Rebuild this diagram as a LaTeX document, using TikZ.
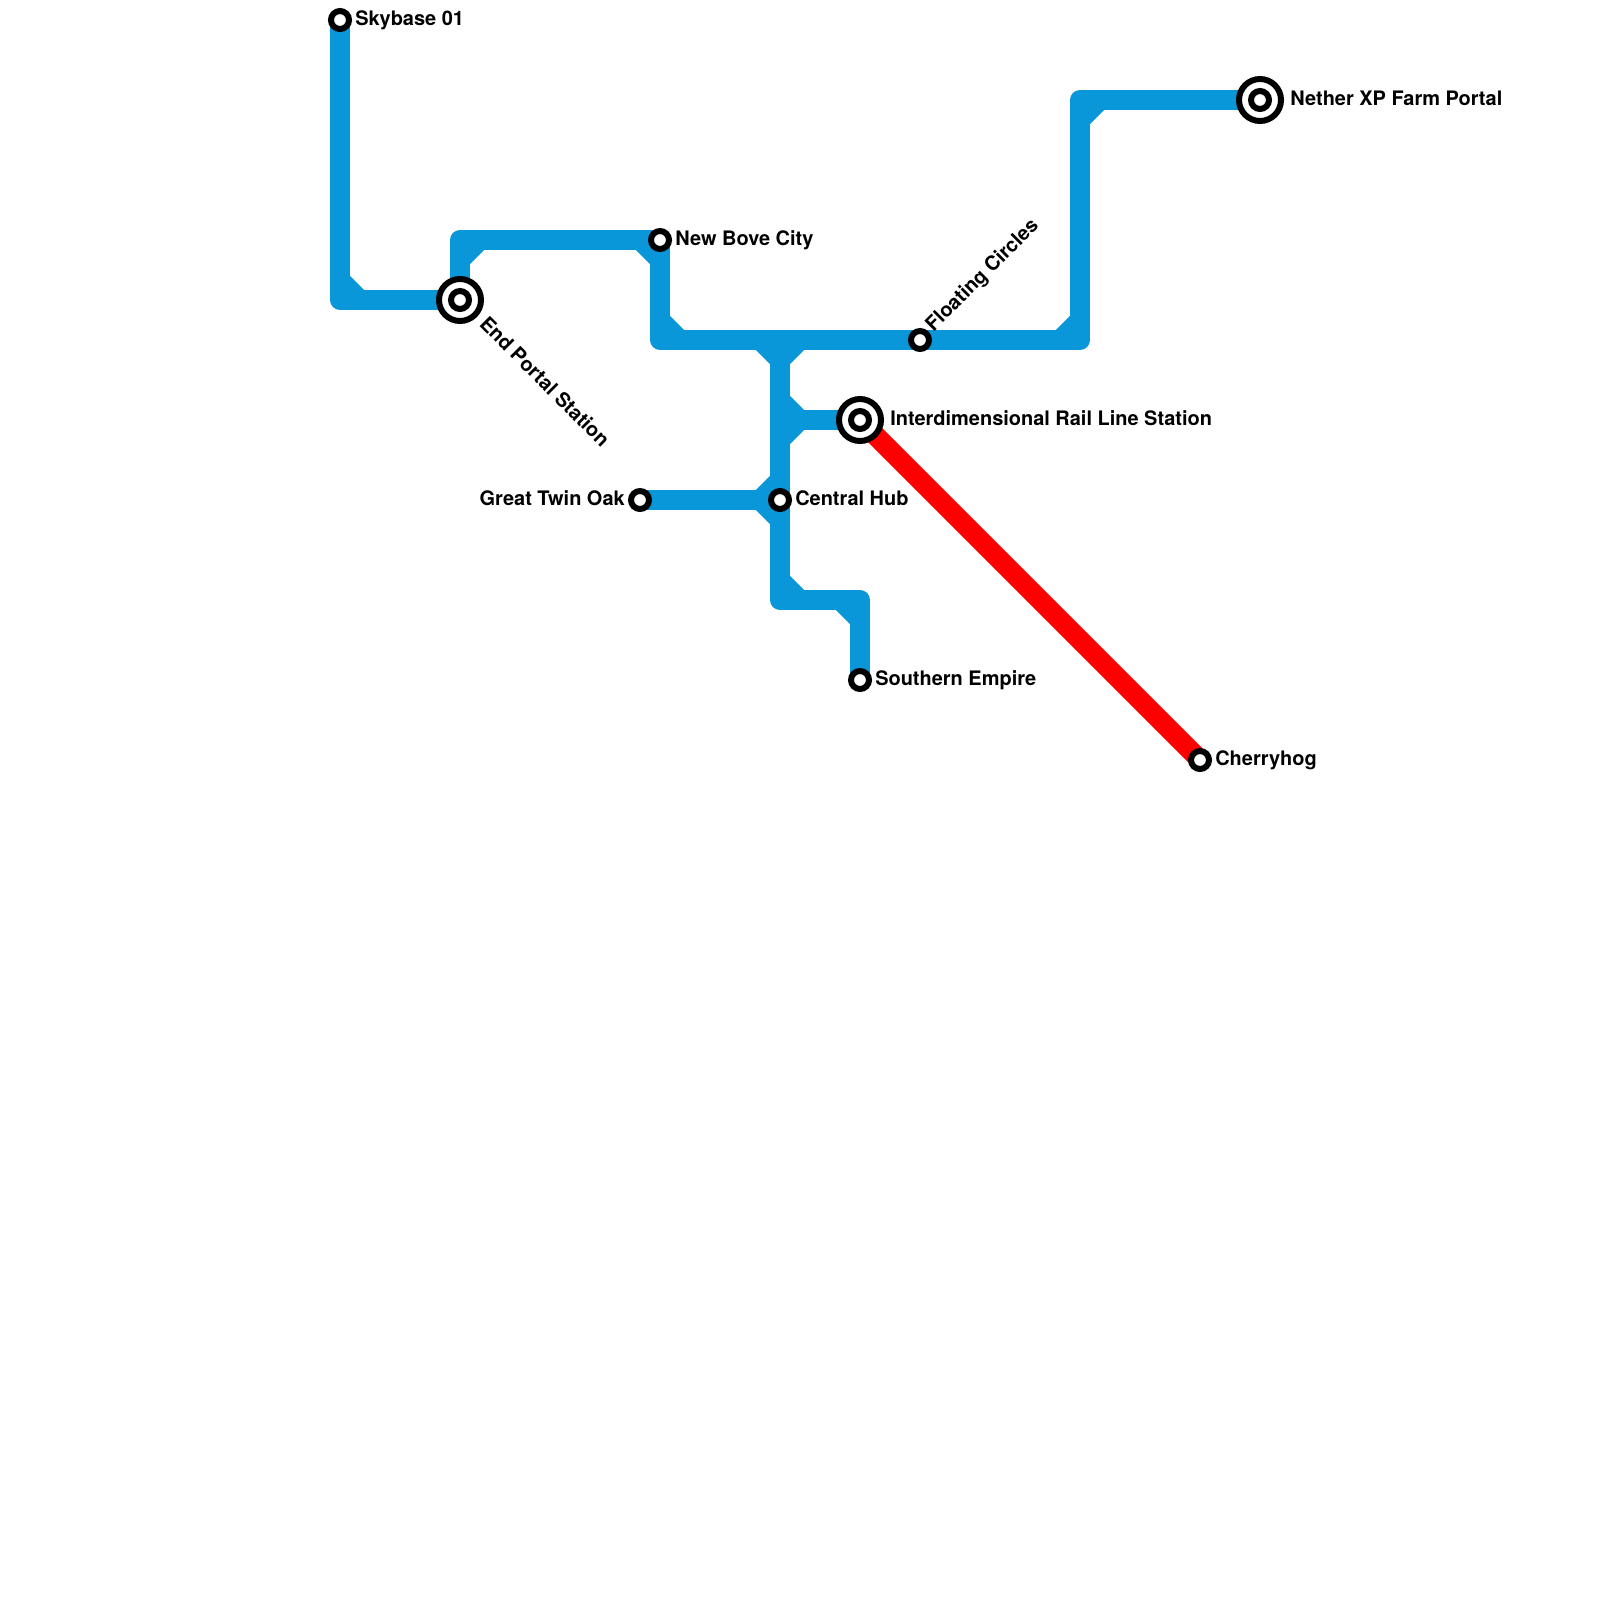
\documentclass[tikz,border=0pt]{standalone}
\usepackage{fontspec}
\setmainfont{TeX Gyre Heros}
\usetikzlibrary{positioning,backgrounds}
\definecolor{lineblue}{HTML}{0A97D9}
\tikzset{
    track/.style={draw=lineblue,line width=5mm,line join=round},
    redtrack/.style={draw=red,line width=5mm},
    stn/.style={circle,draw=black,fill=white,line width=1.5mm,minimum size=4.5mm,inner sep=0pt},
    ring/.style={circle,draw=black,fill=white,line width=1.5mm,minimum size=10.5mm,inner sep=0pt},
    lbl/.style={font=\fontsize{14.2}{16}\bfseries\selectfont,inner sep=0pt,text height=10pt,text depth=0pt,yshift=0.5mm},
    slant/.style={font=\fontsize{14.2}{16}\bfseries\selectfont,inner sep=0pt,anchor=west}
}

\begin{document}
\begin{tikzpicture}[x=5mm,y=-5mm]
    \useasboundingbox (0,0) rectangle (80,80);

    \node[stn] (skybase) at (17,1) {};
    \node[ring] (endring) at (23,15) {};
    \node[stn] (endportal) at (23,15) {};
    \node[stn] (newbove) at (33,12) {};
    \node[stn] (floating) at (46,17) {};
    \node[ring] (interring) at (43,21) {};
    \node[stn] (inter) at (43,21) {};
    \node[stn] (hub) at (39,25) {};
    \node[stn] (twinoak) at (32,25) {};
    \node[stn] (southern) at (43,34) {};
    \node[stn] (cherryhog) at (60,38) {};
    \node[ring] (netherring) at (63,5) {};
    \node[stn] (nether) at (63,5) {};

    \coordinate (skycorner) at (17,15);
    \coordinate (endcorner) at (23,12);
    \coordinate (bovecorner) at (33,17);
    \coordinate (top) at (39,17);
    \coordinate (eastcorner) at (54,17);
    \coordinate (northcorner) at (54,5);
    \coordinate (intersplit) at (39,21);
    \coordinate (foot) at (39,30);
    \coordinate (footeast) at (43,30);

    \begin{scope}[on background layer]
        \draw[track] (skybase.center) -- (skycorner) -- (endportal.center);
        \draw[track] (endportal.center) -- (endcorner) -- (newbove.center);
        \draw[track] (newbove.center) -- (bovecorner) -- (floating.center);
        \draw[track] (floating.center) -- (eastcorner) -- (northcorner) -- (nether.center);
        \draw[track] (top) -- (hub.center);
        \draw[track] (intersplit) -- (inter.center);
        \draw[track] (twinoak.center) -- (hub.center);
        \draw[track] (hub.center) -- (foot) -- (footeast) -- (southern.center);
        \draw[redtrack] (inter.center) -- (cherryhog.center);
        \foreach \xa/\ya/\xb/\yb in {17/14/18/15,32/12/33/13,23/13/24/12,33/16/34/17,53/17/54/16,54/6/55/5,
            38/17/39/18,40/17/39/18,39/20/40/21,39/22/40/21,39/24/38/25,39/26/38/25,39/29/40/30,42/30/43/31}
            \draw[track] (\xa,\ya) -- (\xb,\yb);
    \end{scope}

    \node[lbl,right=0.75mm of skybase] (skybaselbl) {Skybase 01};
    \node[lbl,right=0.75mm of newbove] (bovelbl) {New Bove City};
    \node[lbl,right=0.75mm of hub] (hublbl) {Central Hub};
    \node[lbl,left=0.75mm of twinoak] (oaklbl) {Great Twin Oak};
    \node[lbl,right=0.75mm of southern] (southernlbl) {Southern Empire};
    \node[lbl,right=0.75mm of cherryhog] (cherrylbl) {Cherryhog};
    \node[lbl,right=1.5mm of interring] (interlbl) {Interdimensional Rail Line Station};
    \node[lbl,right=1.5mm of netherring] (netherlbl) {Nether XP Farm Portal};
    \node[slant,rotate=45] (floatlbl) at ([shift={(0.48,-0.55)}]floating.center) {Floating Circles};
    \node[slant,rotate=-45] (endlbl) at ([shift={(1.18,1)}]endportal.center) {End Portal Station};
\end{tikzpicture}
\end{document}
